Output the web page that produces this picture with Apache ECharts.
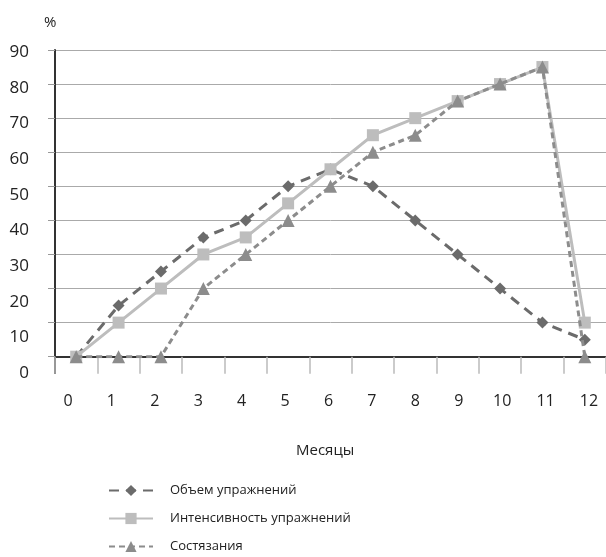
<!DOCTYPE html>
<html>
<head>
<meta charset="utf-8">
<script src="https://cdn.jsdelivr.net/npm/echarts@6/dist/echarts.min.js"></script>
<style>
  html, body { margin: 0; padding: 0; background: #fff; }
  #chart { width: 606px; height: 557px; }
</style>
</head>
<body>
<div id="chart"></div>
<script>
// Months of the training year
const months = ['0', '1', '2', '3', '4', '5', '6', '7', '8', '9', '10', '11', '12'];

// Series values, percent
const volume = [0, 15, 25, 35, 40, 50, 55, 50, 40, 30, 20, 10, 5];
const intensity = [0, 10, 20, 30, 35, 45, 55, 65, 70, 75, 80, 85, 10];
const competitions = [0, 0, 0, 20, 30, 40, 50, 60, 65, 75, 80, 85, 0];

// Series names
const seriesNames = ['Объем упражнений', 'Интенсивность упражнений', 'Состязания'];

// Axis captions
const yUnit = '%';
const xTitle = 'Месяцы';

const font = 'Open Sans, Noto Sans, sans-serif';
const chart = echarts.init(document.getElementById('chart'), null, { renderer: 'canvas' });

const option = {
  animation: false,
  backgroundColor: '#ffffff',
  textStyle: { fontFamily: font },
  title: [
    { text: yUnit, left: 39, top: 10, textStyle: { fontSize: 15, fontWeight: 'normal', color: '#222', fontFamily: font } },
    { text: xTitle, left: 291, top: 438, textStyle: { fontSize: 15, fontWeight: 'normal', color: '#222', fontFamily: font } }
  ],
  legend: {
    orient: 'vertical',
    left: 108,
    top: 484,
    padding: 0,
    itemWidth: 44,
    itemHeight: 14,
    itemGap: 15,
    data: seriesNames,
    textStyle: { fontSize: 13, color: '#222', fontFamily: font, padding: [0, 0, 0, 12] }
  },
  grid: [
    // plot area
    { left: 55, right: 0, top: 50, height: 306.7, containLabel: false },
    // y tick labels
    { left: 55, right: 0, top: 52, bottom: 184, containLabel: false },
    // x tick labels
    { left: 68, right: 17, top: 384, height: 1, containLabel: false }
  ],
  xAxis: [
    {
      gridIndex: 0,
      type: 'category',
      data: months,
      boundaryGap: true,
      axisLine: { show: true, lineStyle: { color: '#333', width: 2 } },
      axisTick: { show: true, interval: 0, length: 17, lineStyle: { color: '#bbb', width: 1.5 } },
      axisLabel: { show: false },
      splitLine: { show: false }
    },
    {
      gridIndex: 1, type: 'value', show: false, min: 0, max: 12
    },
    {
      gridIndex: 2,
      type: 'value',
      min: 0,
      max: 12,
      interval: 1,
      axisLine: { show: false },
      axisTick: { show: false },
      splitLine: { show: false },
      axisLabel: { show: true, margin: 8, fontSize: 16, color: '#222', fontFamily: font }
    }
  ],
  yAxis: [
    {
      gridIndex: 0,
      type: 'value',
      min: 0,
      max: 90,
      interval: 10,
      axisLine: { show: true, lineStyle: { color: '#333', width: 2 } },
      axisTick: { show: true, length: 7, lineStyle: { color: '#999' } },
      axisLabel: { show: false },
      splitLine: { show: true, lineStyle: { color: '#aaa', width: 1 } }
    },
    {
      gridIndex: 1,
      type: 'value',
      min: 0,
      max: 90,
      interval: 10,
      axisLine: { show: true, lineStyle: { color: '#333', width: 2 } },
      axisTick: { show: false },
      splitLine: { show: false },
      axisLabel: { show: true, margin: 26, fontSize: 17, color: '#222', fontFamily: font }
    },
    {
      gridIndex: 2, type: 'value', show: false
    }
  ],
  series: [
    {
      name: seriesNames[0],
      type: 'line',
      xAxisIndex: 0,
      yAxisIndex: 0,
      data: volume,
      z: 2,
      symbol: 'diamond',
      symbolSize: 12,
      color: '#6b6b6b',
      itemStyle: { color: '#6b6b6b' },
      lineStyle: { color: '#6b6b6b', width: 3, type: [10, 7] }
    },
    {
      name: seriesNames[1],
      type: 'line',
      xAxisIndex: 0,
      yAxisIndex: 0,
      data: intensity,
      z: 3,
      symbol: 'rect',
      symbolSize: 12,
      color: '#bdbdbd',
      itemStyle: { color: '#bdbdbd' },
      lineStyle: { color: '#bdbdbd', width: 3, type: 'solid' }
    },
    {
      name: seriesNames[2],
      type: 'line',
      xAxisIndex: 0,
      yAxisIndex: 0,
      data: competitions,
      z: 4,
      symbol: 'triangle',
      symbolSize: 13,
      color: '#8c8c8c',
      itemStyle: { color: '#8c8c8c' },
      lineStyle: { color: '#8c8c8c', width: 3, type: [6, 4] }
    }
  ]
};

chart.setOption(option);
</script>
</body>
</html>
